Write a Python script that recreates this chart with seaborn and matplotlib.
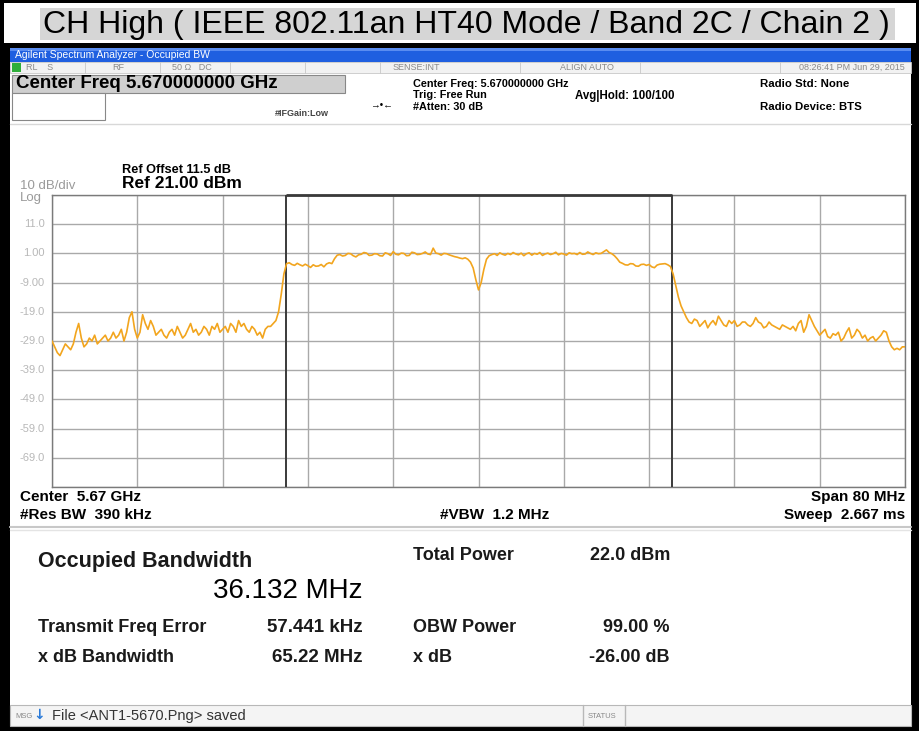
import numpy as np
import pandas as pd
import seaborn as sns
import matplotlib
matplotlib.use("Agg")
import matplotlib.pyplot as plt
import matplotlib.transforms as mtrans
from matplotlib.patches import Rectangle

# trace levels (dBm), one point every 0.25 MHz, 5630 -> 5710 MHz
# (each row is 5 MHz)
level_dbm = [
    -29, -31, -33, -34, -32, -30, -31, -32, -30, -26, -23, -28, -31, -30, -28, -29, -27, -30, -29, -28,
    -27, -29, -28, -26, -28, -27, -25, -29, -26, -21, -19, -25, -28, -26, -20, -23, -25, -22, -24, -27,
    -26, -25, -27, -28, -26, -25, -27, -24, -26, -28, -27, -25, -23, -26, -25, -27, -26, -24, -25, -27,
    -24, -25, -23, -26, -25, -24, -26, -23, -24, -26, -22, -24, -23, -25, -26, -24, -25, -27, -26, -28,
    -25, -24, -24, -23, -22, -19, -13, -6, -2.5, -2.2, -2.8, -3.1, -2.4, -2.9, -3.3, -2.7, -3.2, -3.8, -2.9, -3.4,
    -3.3, -2.8, -3.6, -2.6, -2.2, -2.5, -0.8, 0.4, 0.6, 0.1, 0.3, 1.0, 0.9, 0.2, -0.2, 0.5, 0.7, 1.3, 1.1, 0.3,
    0.4, 0.9, 0.8, 0.2, 0.1, 1.2, 0.9, 0.3, 1.6, 0.7, 0.5, 1.1, 1.0, 0.2, 0.3, 1.4, 1.2, 0.6, 0.7, 1.0,
    1.5, 0.8, 0.6, 2.8, 1.1, 0.9, 0.4, 1.0, 0.9, 0.5, 0.2, -0.1, -0.3, -0.6, -0.8, -0.5, -1.0, -2.0, -4.0, -8.0,
    -11.5, -9.0, -4.5, -1.0, 0.2, 0.6, 0.9, 0.3, 1.2, 0.7, 0.4, 1.0, 0.6, 1.3, 0.8, 0.5, 1.1, 0.2, 0.9, 1.2,
    0.4, 1.0, 0.7, 1.3, 0.3, 0.8, 1.1, 0.6, 0.9, 1.4, 0.5, 1.0, 0.8, 0.4, 1.2, 0.9, 1.0, 0.6, 1.3, 0.7,
    0.8, 1.5, 1.0, 0.6, 1.2, 0.9, 1.0, 1.6, 2.2, 1.3, 0.9, 0.2, -0.8, -2.0, -2.4, -2.9, -3.0, -2.5, -2.6, -3.3,
    -3.4, -2.8, -2.7, -3.1, -2.8, -3.6, -3.9, -3.0, -2.7, -2.6, -2.5, -2.9, -3.5, -6, -10, -14, -17, -19, -21, -22.5,
    -23, -21.5, -22, -24, -23, -22, -24.5, -23, -22, -23.5, -20.5, -22, -23.5, -24, -22, -23, -22, -24, -23.5, -22.5,
    -22.5, -23.5, -24, -23, -21, -22.5, -23, -24.5, -24, -22.5, -23.5, -24, -24.5, -25, -23.5, -24, -24.5, -25, -24, -25.5,
    -23, -22, -26, -24, -20, -22, -24, -25.5, -27, -26, -25, -27.5, -28, -26.5, -27, -26, -29, -28, -26, -24.5,
    -28, -27, -25, -26, -28, -27, -29, -28, -27.5, -29, -28, -27, -25.5, -26, -29, -31, -32, -31.5, -32, -31,
    -31,
]
center_mhz = 5670.0
span_mhz = 80.0
ref_dbm = 21.0
db_per_div = 10.0
obw_mhz = 36.132
freq_err_mhz = 0.057441
ytick_labels = ["11.0", "1.00", "-9.00", "-19.0", "-29.0", "-39.0", "-49.0", "-59.0", "-69.0"]

title = "CH High ( IEEE 802.11an HT40 Mode / Band 2C / Chain 2 )"
header_left = ["Center Freq: 5.670000000 GHz", "Trig: Free Run", "#Atten: 30 dB"]
header_right = ["Radio Std: None", "Radio Device: BTS"]
results = [
    ("Transmit Freq Error", "57.441 kHz", "OBW Power", "99.00 %"),
    ("x dB Bandwidth", "65.22 MHz", "x dB", "-26.00 dB"),
]

W, H = 920, 731
sns.set_theme(style="white")
plt.rcParams["font.family"] = ["Liberation Sans", "DejaVu Sans"]

fig = plt.figure(figsize=(W / 100, H / 100), dpi=100)
fig.patch.set_facecolor("black")


def put(x, y, s, size=8, weight="bold", color="black", ha="left", va="center"):
    fig.text(x / W, 1 - y / H, s, fontsize=size, fontweight=weight, color=color,
             ha=ha, va=va)


def box(x0, y0, x1, y1, fc="white", ec="none", lw=1.0):
    fig.patches.append(Rectangle((x0 / W, 1 - y1 / H), (x1 - x0) / W, (y1 - y0) / H,
                                 transform=fig.transFigure, facecolor=fc, edgecolor=ec,
                                 linewidth=lw, zorder=0))


def hline(y, x0, x1, color="#b0b0b0", lw=1.0):
    fig.add_artist(plt.Line2D([x0 / W, x1 / W], [1 - y / H, 1 - y / H], color=color, lw=lw))


def vline(x, y0, y1, color="#b0b0b0", lw=1.0):
    fig.add_artist(plt.Line2D([x / W, x / W], [1 - y0 / H, 1 - y1 / H], color=color, lw=lw))


# title strip
box(4, 3, 916, 43, fc="white")
box(40, 8, 895, 40, fc="#d6d6d6")
put(466, 25, title, size=23, weight="normal", ha="center")

# analyzer screen
box(10, 48, 911, 726, fc="white")
box(10, 48, 911, 62, fc="#1f5fe0")
box(10, 48, 911, 51, fc="#5a8cf0")
put(15, 55, "Agilent Spectrum Analyzer - Occupied BW", size=7.5, weight="normal", color="white")

# status row
box(10, 62, 911, 73, fc="#f2f2f2", ec="#c8c8c8", lw=0.6)
box(12, 63, 21, 72, fc="#2fae3a")
for cx in [85, 160, 230, 305, 380, 520, 640, 780]:
    vline(cx, 62, 73, color="#c8c8c8", lw=0.6)
grey_small = dict(size=6.5, weight="normal", color="#8a8a8a")
put(26, 67.5, "RL    S", **grey_small)
put(112, 67.5, "RF", **grey_small)
put(172, 67.5, "50 Ω   DC", **grey_small)
put(393, 67.5, "SENSE:INT", **grey_small)
put(560, 67.5, "ALIGN AUTO", **grey_small)
put(905, 67.5, "08:26:41 PM Jun 29, 2015", ha="right", **grey_small)

# active function box
box(12, 75, 345, 93, fc="#cfcfcf", ec="#888888", lw=0.8)
put(16, 84, "Center Freq 5.670000000 GHz", size=13.5)
box(12, 93, 105, 120, fc="white", ec="#888888", lw=0.8)
put(275, 113, "#IFGain:Low", size=6.5, color="#444444")
put(381, 104, "→•←", size=7, weight="normal", ha="center")
for i, s in enumerate(header_left):
    put(413, 84 + 11.5 * i, s, size=7.8)
put(575, 96, "Avg|Hold: 100/100", size=8.3)
put(760, 84, header_right[0], size=8.2)
put(760, 107, header_right[1], size=8.2)
hline(124, 10, 911, color="#d8d8d8")

put(122, 170, "Ref Offset 11.5 dB", size=9.2)
put(122, 184, "Ref 21.00 dBm", size=12.5)
put(20, 186, "10 dB/div", size=9.5, weight="normal", color="#9a9a9a")
put(20, 198, "Log", size=9.5, weight="normal", color="#9a9a9a")

# trace window
ax = fig.add_axes([52 / W, 1 - 487 / H, 853 / W, 292 / H])
ax.set_zorder(5)
ax.set_facecolor("white")
f_lo = center_mhz - span_mhz / 2
f_hi = center_mhz + span_mhz / 2
freq_mhz = np.linspace(f_lo, f_hi, len(level_dbm))
df = pd.DataFrame({"freq": freq_mhz, "level": level_dbm})
y_bot = ref_dbm - 10 * db_per_div
ax.set_xlim(f_lo, f_hi)
ax.set_ylim(y_bot, ref_dbm)
ax.set_xticks(np.linspace(f_lo, f_hi, 11))
ax.set_yticks(np.arange(y_bot, ref_dbm + 1, db_per_div))
ax.grid(True, color="#a9a9a9", lw=1.0)
ax.tick_params(left=False, bottom=False, labelleft=False, labelbottom=False)
for sp in ax.spines.values():
    sp.set_color("#7a7a7a")
    sp.set_linewidth(1.0)

obw_lo = center_mhz + freq_err_mhz - obw_mhz / 2
obw_hi = center_mhz + freq_err_mhz + obw_mhz / 2
ax.axvline(obw_lo, color="#3a3a3a", lw=1.4, zorder=3)
ax.axvline(obw_hi, color="#3a3a3a", lw=1.4, zorder=3)
ax.hlines(ref_dbm, obw_lo, obw_hi, color="#3a3a3a", lw=2.0, zorder=3, clip_on=False)

sns.lineplot(data=df, x="freq", y="level", ax=ax, color="#f2a51e", lw=1.2, zorder=4)
ax.set_xlabel("")
ax.set_ylabel("")

lab_tr = mtrans.blended_transform_factory(fig.transFigure, ax.transData)
for v, s in zip(np.arange(ref_dbm - db_per_div, y_bot, -db_per_div), ytick_labels):
    ax.text(45 / W, v, s, transform=lab_tr, ha="right", va="center",
            fontsize=8, color="#b8b8b8", clip_on=False)

# setup line under the graticule
put(20, 497, "Center  5.67 GHz", size=11)
put(20, 515, "#Res BW  390 kHz", size=11)
put(440, 515, "#VBW  1.2 MHz", size=11)
put(905, 497, "Span 80 MHz", size=11, ha="right")
put(905, 515, "Sweep  2.667 ms", size=11, ha="right")
hline(527, 10, 911, color="#c8c8c8", lw=1.5)
hline(530, 10, 911, color="#e4e4e4", lw=1.0)

# measurement results
put(38, 562, "Occupied Bandwidth", size=15.5, color="#1a1a1a")
put(363, 591, f"{obw_mhz:.3f} MHz", size=20, weight="normal", ha="right")
put(413, 556, "Total Power", size=13, color="#1a1a1a")
put(670, 556, "22.0 dBm", size=13, ha="right", color="#1a1a1a")
for j, (a, b, c, d) in enumerate(results):
    y = 627 + 31 * j
    put(38, y, a, size=13, color="#1a1a1a")
    put(363, y, b, size=13.5, ha="right", color="#1a1a1a")
    put(413, y, c, size=13, color="#1a1a1a")
    put(670, y, d, size=13, ha="right", color="#1a1a1a")

# message bar
box(10, 705, 911, 726, fc="#f4f4f4", ec="#b8b8b8", lw=0.8)
put(15, 716, "MSG", size=5.5, weight="normal", color="#888888")
fig.text(39 / W, 1 - 715 / H, "↓", fontsize=10, fontweight="bold", color="#2a7ad8",
         ha="center", va="center", family="DejaVu Sans")
put(52, 716, "File <ANT1-5670.Png> saved", size=10.5, weight="normal", color="#333333")
vline(583, 705, 726, color="#b8b8b8")
vline(625, 705, 726, color="#b8b8b8")
put(588, 716, "STATUS", size=5.5, weight="normal", color="#888888")

fig.savefig("out.png", dpi=100, facecolor=fig.get_facecolor())
